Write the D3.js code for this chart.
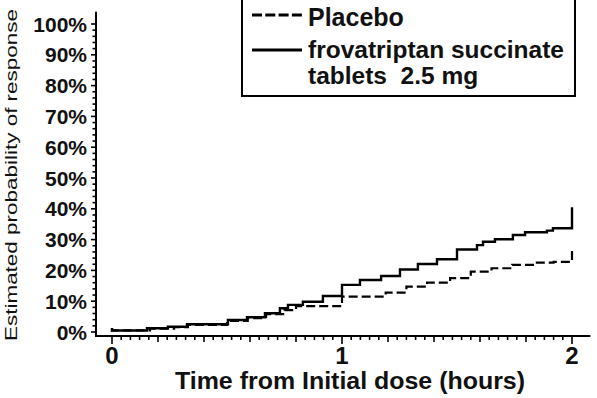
<!DOCTYPE html>
<html>
<head>
<meta charset="utf-8">
<script src="https://cdn.jsdelivr.net/npm/d3@7"></script>
<style>
  html, body { margin: 0; padding: 0; background: #fff; }
  svg { display: block; font-family: "Liberation Sans", Arial, sans-serif; }
</style>
</head>
<body>
<svg id="chart" width="597" height="398"></svg>
<script>
// ---- data ----
const yTickValues = [0, 10, 20, 30, 40, 50, 60, 70, 80, 90, 100];
const yTickLabels = ["0%", "10%", "20%", "30%", "40%", "50%", "60%", "70%", "80%", "90%", "100%"];
const xTickValues = [0, 1, 2];
const xTickLabels = ["0", "1", "2"];

const seriesNames = ["Placebo", "frovatriptan succinate", "tablets  2.5 mg"];

// frovatriptan succinate tablets 2.5 mg (solid)
const activeTime = [0, 0, 0.152, 0.243, 0.326, 0.504, 0.587, 0.665, 0.730, 0.765, 0.830, 0.917, 1.0, 1.078, 1.170, 1.252, 1.330, 1.413, 1.500, 1.587, 1.613, 1.665, 1.743, 1.796, 1.891, 1.917, 2.0, 2.0];
const activeProb = [1.3, 0.5, 1.2, 1.7, 2.5, 3.9, 4.8, 6.1, 7.7, 8.8, 9.8, 11.7, 15.3, 16.9, 18.2, 20.3, 22.1, 23.6, 26.8, 28.2, 29.3, 30.1, 31.5, 32.4, 32.9, 33.7, 33.7, 40.5];

// Placebo (dashed)
const placeboTime = [0, 0, 0.165, 0.27, 0.33, 0.50, 0.59, 0.67, 0.75, 0.80, 1.0, 1.19, 1.28, 1.37, 1.47, 1.56, 1.65, 1.74, 1.83, 1.92, 2.0, 2.0];
const placeboProb = [1.3, 0.5, 1.1, 1.6, 2.3, 3.6, 4.5, 5.8, 7.1, 8.4, 11.5, 12.8, 14.7, 16.0, 17.5, 19.6, 20.7, 21.8, 22.5, 22.8, 22.8, 26.6];

// ---- drawing ----
const svg = d3.select("#chart");
const x = d3.scaleLinear().domain([0, 2]).range([112, 572]);
const y = d3.scaleLinear().domain([0, 100]).range([332, 24]);

// axis lines (offset frame, SAS style)
const axisLeftX = x(0) - 16, axisBottomY = y(0) + 4;
svg.append("line").attr("x1", axisLeftX).attr("x2", axisLeftX)
  .attr("y1", y(104)).attr("y2", axisBottomY + 1)
  .attr("stroke", "#000").attr("stroke-width", 2);
svg.append("line").attr("x1", axisLeftX - 1).attr("x2", x(2.08))
  .attr("y1", axisBottomY).attr("y2", axisBottomY)
  .attr("stroke", "#000").attr("stroke-width", 2);

// y ticks: major every 10, minor every 2
const yMinor = d3.range(0, 101, 2);
svg.append("g").selectAll("line").data(yMinor).join("line")
  .attr("x1", d => axisLeftX - (d % 10 === 0 ? 5 : 3.5))
  .attr("x2", axisLeftX)
  .attr("y1", d => y(d)).attr("y2", d => y(d))
  .attr("stroke", "#000").attr("stroke-width", 1.6);

svg.append("g").selectAll("text").data(yTickValues).join("text")
  .attr("x", axisLeftX - 9)
  .attr("y", d => y(d) + 7.5)
  .attr("text-anchor", "end")
  .attr("font-size", 21).attr("font-weight", "bold").attr("fill", "#111")
  .text((d, i) => yTickLabels[i]);

// x ticks: major at hours, medium every 0.2, minor every 0.04
const xMinor = d3.range(0, 51).map(i => i * 0.04);
svg.append("g").selectAll("line").data(xMinor).join("line")
  .attr("x1", d => x(d)).attr("x2", d => x(d))
  .attr("y1", axisBottomY)
  .attr("y2", (d, i) => axisBottomY + (i % 25 === 0 ? 8 : (i % 5 === 0 ? 6 : 4)))
  .attr("stroke", "#000").attr("stroke-width", 1.6);

svg.append("g").selectAll("text").data(xTickValues).join("text")
  .attr("x", d => x(d))
  .attr("y", axisBottomY + 28)
  .attr("text-anchor", "middle")
  .attr("font-size", 24).attr("font-weight", "bold").attr("fill", "#111")
  .text((d, i) => xTickLabels[i]);

// axis titles
svg.append("text")
  .attr("x", 350).attr("y", 389)
  .attr("text-anchor", "middle")
  .attr("font-size", 23).attr("font-weight", "bold").attr("fill", "#111")
  .attr("textLength", 350).attr("lengthAdjust", "spacingAndGlyphs")
  .text("Time from Initial dose (hours)");

svg.append("text")
  .attr("transform", "translate(17,175) rotate(-90)")
  .attr("text-anchor", "middle")
  .attr("font-size", 16.5).attr("fill", "#111")
  .attr("textLength", 332).attr("lengthAdjust", "spacingAndGlyphs")
  .text("Estimated probability of response");

// step curves
const line = d3.line().x(d => x(d[0])).y(d => y(d[1])).curve(d3.curveStepAfter);
const placeboPts = placeboTime.map((t, i) => [t, placeboProb[i]]);
const activePts = activeTime.map((t, i) => [t, activeProb[i]]);

svg.append("path").datum(placeboPts).attr("d", line)
  .attr("fill", "none").attr("stroke", "#000").attr("stroke-width", 2.2)
  .attr("stroke-dasharray", "9,4");
svg.append("path").datum(activePts).attr("d", line)
  .attr("fill", "none").attr("stroke", "#000").attr("stroke-width", 2.4);

// legend
const lg = svg.append("g");
lg.append("rect").attr("x", 242).attr("y", -2).attr("width", 333).attr("height", 98)
  .attr("fill", "#fff").attr("stroke", "#000").attr("stroke-width", 2);
lg.append("line").attr("x1", 252).attr("x2", 302).attr("y1", 15).attr("y2", 15)
  .attr("stroke", "#000").attr("stroke-width", 3).attr("stroke-dasharray", "10,3.3");
lg.append("line").attr("x1", 252).attr("x2", 302).attr("y1", 50).attr("y2", 50)
  .attr("stroke", "#000").attr("stroke-width", 3);
lg.append("text").attr("x", 308).attr("y", 26)
  .attr("font-size", 25).attr("font-weight", "bold").attr("fill", "#111").text(seriesNames[0]);
lg.append("text").attr("x", 308).attr("y", 58)
  .attr("font-size", 24.5).attr("font-weight", "bold").attr("fill", "#111").text(seriesNames[1]);
lg.append("text").attr("x", 308).attr("y", 84)
  .attr("font-size", 24.5).attr("font-weight", "bold").attr("fill", "#111")
  .style("white-space", "pre").text(seriesNames[2]);
</script>
</body>
</html>
